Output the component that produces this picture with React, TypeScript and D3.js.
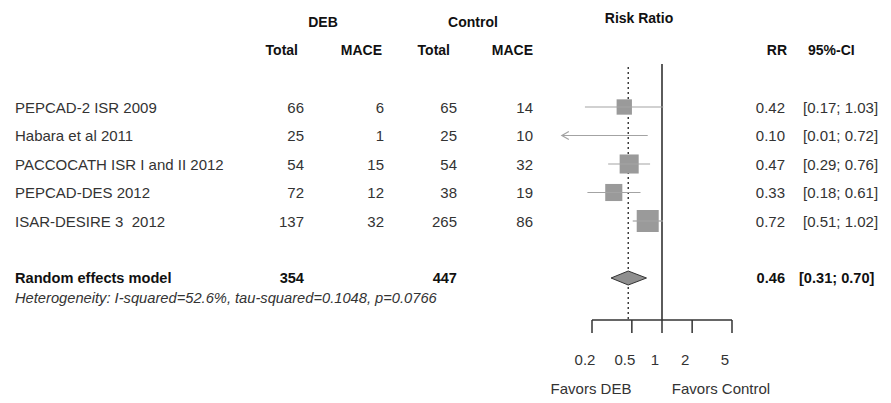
import * as d3 from "d3";
import { useEffect } from "react";

const W = 891;
const H = 403;

const studies = [
  "PEPCAD-2 ISR 2009",
  "Habara et al 2011",
  "PACCOCATH ISR I and II 2012",
  "PEPCAD-DES 2012",
  "ISAR-DESIRE 3  2012",
];
const debTotal = [66, 25, 54, 72, 137];
const debMace = [6, 1, 15, 12, 32];
const ctrlTotal = [65, 25, 54, 38, 265];
const ctrlMace = [14, 10, 32, 19, 86];
const rr = [0.42, 0.1, 0.47, 0.33, 0.72];
const ciLow = [0.17, 0.01, 0.29, 0.18, 0.51];
const ciHigh = [1.03, 0.72, 0.76, 0.61, 1.02];
const weights = [16.5, 3.5, 25.5, 20.5, 34.0];

const pooledTotals = [354, 447];
const pooledRR = [0.46, 0.31, 0.7]; // est, low, high
const heterogeneity = "Heterogeneity: I-squared=52.6%, tau-squared=0.1048, p=0.0766";
const ticks = [0.2, 0.5, 1, 2, 5];

const FONT = "'Liberation Sans', Arial, sans-serif";
const fmt = d3.format(".2f");

export default function App() {
  useEffect(() => {
    document.body.style.margin = "0";
  }, []);

  const x = d3.scaleLog().domain([0.2, 5]).range([592, 732]);
  const xClip = [x(0.1), x(10)];
  // row index -> vertical centre
  const row = d3.scaleLinear().domain([0, 9]).range([21.5, 278]);
  const box = d3.scaleSqrt().domain([0, 34]).range([0, 22]);

  const cols = { debT: 304, debM: 384, ctlT: 457, ctlM: 533, rr: 785, ci: 803 };
  const numStyle = { fontFamily: FONT, fontSize: 15, fill: "#333", style: { whiteSpace: "pre" as const } };
  const headStyle = { fontFamily: FONT, fontSize: 14, fontWeight: 700, fill: "#111" };
  const poolStyle = { fontFamily: FONT, fontSize: 14.6, fontWeight: 700, fill: "#111" };

  const axisY = 320;
  const topY = 64;

  return (
    <svg width={W} height={H} style={{ display: "block" }}>
      <rect width={W} height={H} fill="#fff" />

      {/* headers */}
      <text x={323} y={row(0)} textAnchor="middle" dominantBaseline="central" {...headStyle}>DEB</text>
      <text x={473} y={row(0)} textAnchor="middle" dominantBaseline="central" {...headStyle}>Control</text>
      <text x={639} y={row(0) - 4} textAnchor="middle" dominantBaseline="central" {...headStyle}>Risk Ratio</text>
      <text x={cols.debT - 6} y={row(1)} textAnchor="end" dominantBaseline="central" {...headStyle}>Total</text>
      <text x={cols.debM - 2} y={row(1)} textAnchor="end" dominantBaseline="central" {...headStyle}>MACE</text>
      <text x={cols.ctlT - 7} y={row(1)} textAnchor="end" dominantBaseline="central" {...headStyle}>Total</text>
      <text x={cols.ctlM} y={row(1)} textAnchor="end" dominantBaseline="central" {...headStyle}>MACE</text>
      <text x={cols.rr + 2} y={row(1)} textAnchor="end" dominantBaseline="central" {...headStyle}>RR</text>
      <text x={cols.ci + 5} y={row(1)} textAnchor="start" dominantBaseline="central" {...headStyle}>95%-CI</text>

      {/* study rows */}
      {studies.map((s, i) => {
        const y = row(i + 3);
        return (
          <g key={s}>
            <text x={15} y={y} dominantBaseline="central" {...numStyle}>{s}</text>
            <text x={cols.debT} y={y} textAnchor="end" dominantBaseline="central" {...numStyle}>{debTotal[i]}</text>
            <text x={cols.debM} y={y} textAnchor="end" dominantBaseline="central" {...numStyle}>{debMace[i]}</text>
            <text x={cols.ctlT} y={y} textAnchor="end" dominantBaseline="central" {...numStyle}>{ctrlTotal[i]}</text>
            <text x={cols.ctlM} y={y} textAnchor="end" dominantBaseline="central" {...numStyle}>{ctrlMace[i]}</text>
            <text x={cols.rr} y={y} textAnchor="end" dominantBaseline="central" {...numStyle}>{fmt(rr[i])}</text>
            <text x={cols.ci} y={y} dominantBaseline="central" {...numStyle}>
              {`[${fmt(ciLow[i])}; ${fmt(ciHigh[i])}]`}
            </text>
          </g>
        );
      })}

      {/* pooled row */}
      <text x={15} y={row(9)} dominantBaseline="central" {...poolStyle}>Random effects model</text>
      <text x={cols.debT} y={row(9)} textAnchor="end" dominantBaseline="central" {...poolStyle}>{pooledTotals[0]}</text>
      <text x={cols.ctlT} y={row(9)} textAnchor="end" dominantBaseline="central" {...poolStyle}>{pooledTotals[1]}</text>
      <text x={cols.rr} y={row(9)} textAnchor="end" dominantBaseline="central" {...poolStyle}>{fmt(pooledRR[0])}</text>
      <text x={cols.ci - 4} y={row(9)} dominantBaseline="central" {...poolStyle}>
        {`[${fmt(pooledRR[1])}; ${fmt(pooledRR[2])}]`}
      </text>
      <text x={15} y={row(9) + 20} dominantBaseline="central" fontStyle="italic" fontFamily={FONT} fontSize={14.7} fill="#333">
        {heterogeneity}
      </text>

      {/* reference lines */}
      <line x1={x(pooledRR[0])} x2={x(pooledRR[0])} y1={topY + 3} y2={axisY} stroke="#222" strokeWidth={1.3} strokeDasharray="2,3" />
      <line x1={x(1)} x2={x(1)} y1={topY} y2={axisY} stroke="#333" strokeWidth={1.6} />

      {/* CIs and boxes */}
      {studies.map((s, i) => {
        const y = row(i + 3);
        const lo = Math.max(x(ciLow[i]), xClip[0]);
        const hi = Math.min(x(ciHigh[i]), xClip[1]);
        const arrowLeft = x(ciLow[i]) < xClip[0];
        const side = box(weights[i]);
        const cx = x(rr[i]);
        const showBox = cx > xClip[0] + 1;
        return (
          <g key={s + "-ci"}>
            {showBox && (
              <rect x={cx - side / 2} y={y - side / 2} width={side} height={side} fill="#9a9a9a" />
            )}
            <line x1={lo} x2={hi} y1={y} y2={y} stroke="#a3a3a3" strokeWidth={1.2} />
            {arrowLeft && (
              <path d={`M${lo + 7},${y - 4}L${lo},${y}L${lo + 7},${y + 4}`} fill="none" stroke="#a3a3a3" strokeWidth={1.2} />
            )}
          </g>
        );
      })}

      {/* diamond */}
      <path
        d={`M${x(pooledRR[1])},${row(9)}L${x(pooledRR[0])},${row(9) - 7}L${x(pooledRR[2])},${row(9)}L${x(pooledRR[0])},${row(9) + 7}Z`}
        fill="#8f8f8f"
        stroke="#333"
        strokeWidth={1}
      />

      {/* axis */}
      <line x1={x(ticks[0])} x2={x(ticks[ticks.length - 1])} y1={axisY} y2={axisY} stroke="#333" strokeWidth={1.5} />
      {ticks.map((t) => (
        <g key={t}>
          <line x1={x(t)} x2={x(t)} y1={axisY} y2={axisY + 13} stroke="#333" strokeWidth={1.5} />
          <text x={x(t) - 7} y={359} textAnchor="middle" dominantBaseline="central" {...numStyle}>{String(t)}</text>
        </g>
      ))}
      <text x={591} y={388} textAnchor="middle" dominantBaseline="central" {...numStyle}>Favors DEB</text>
      <text x={721} y={388} textAnchor="middle" dominantBaseline="central" {...numStyle}>Favors Control</text>
    </svg>
  );
}
